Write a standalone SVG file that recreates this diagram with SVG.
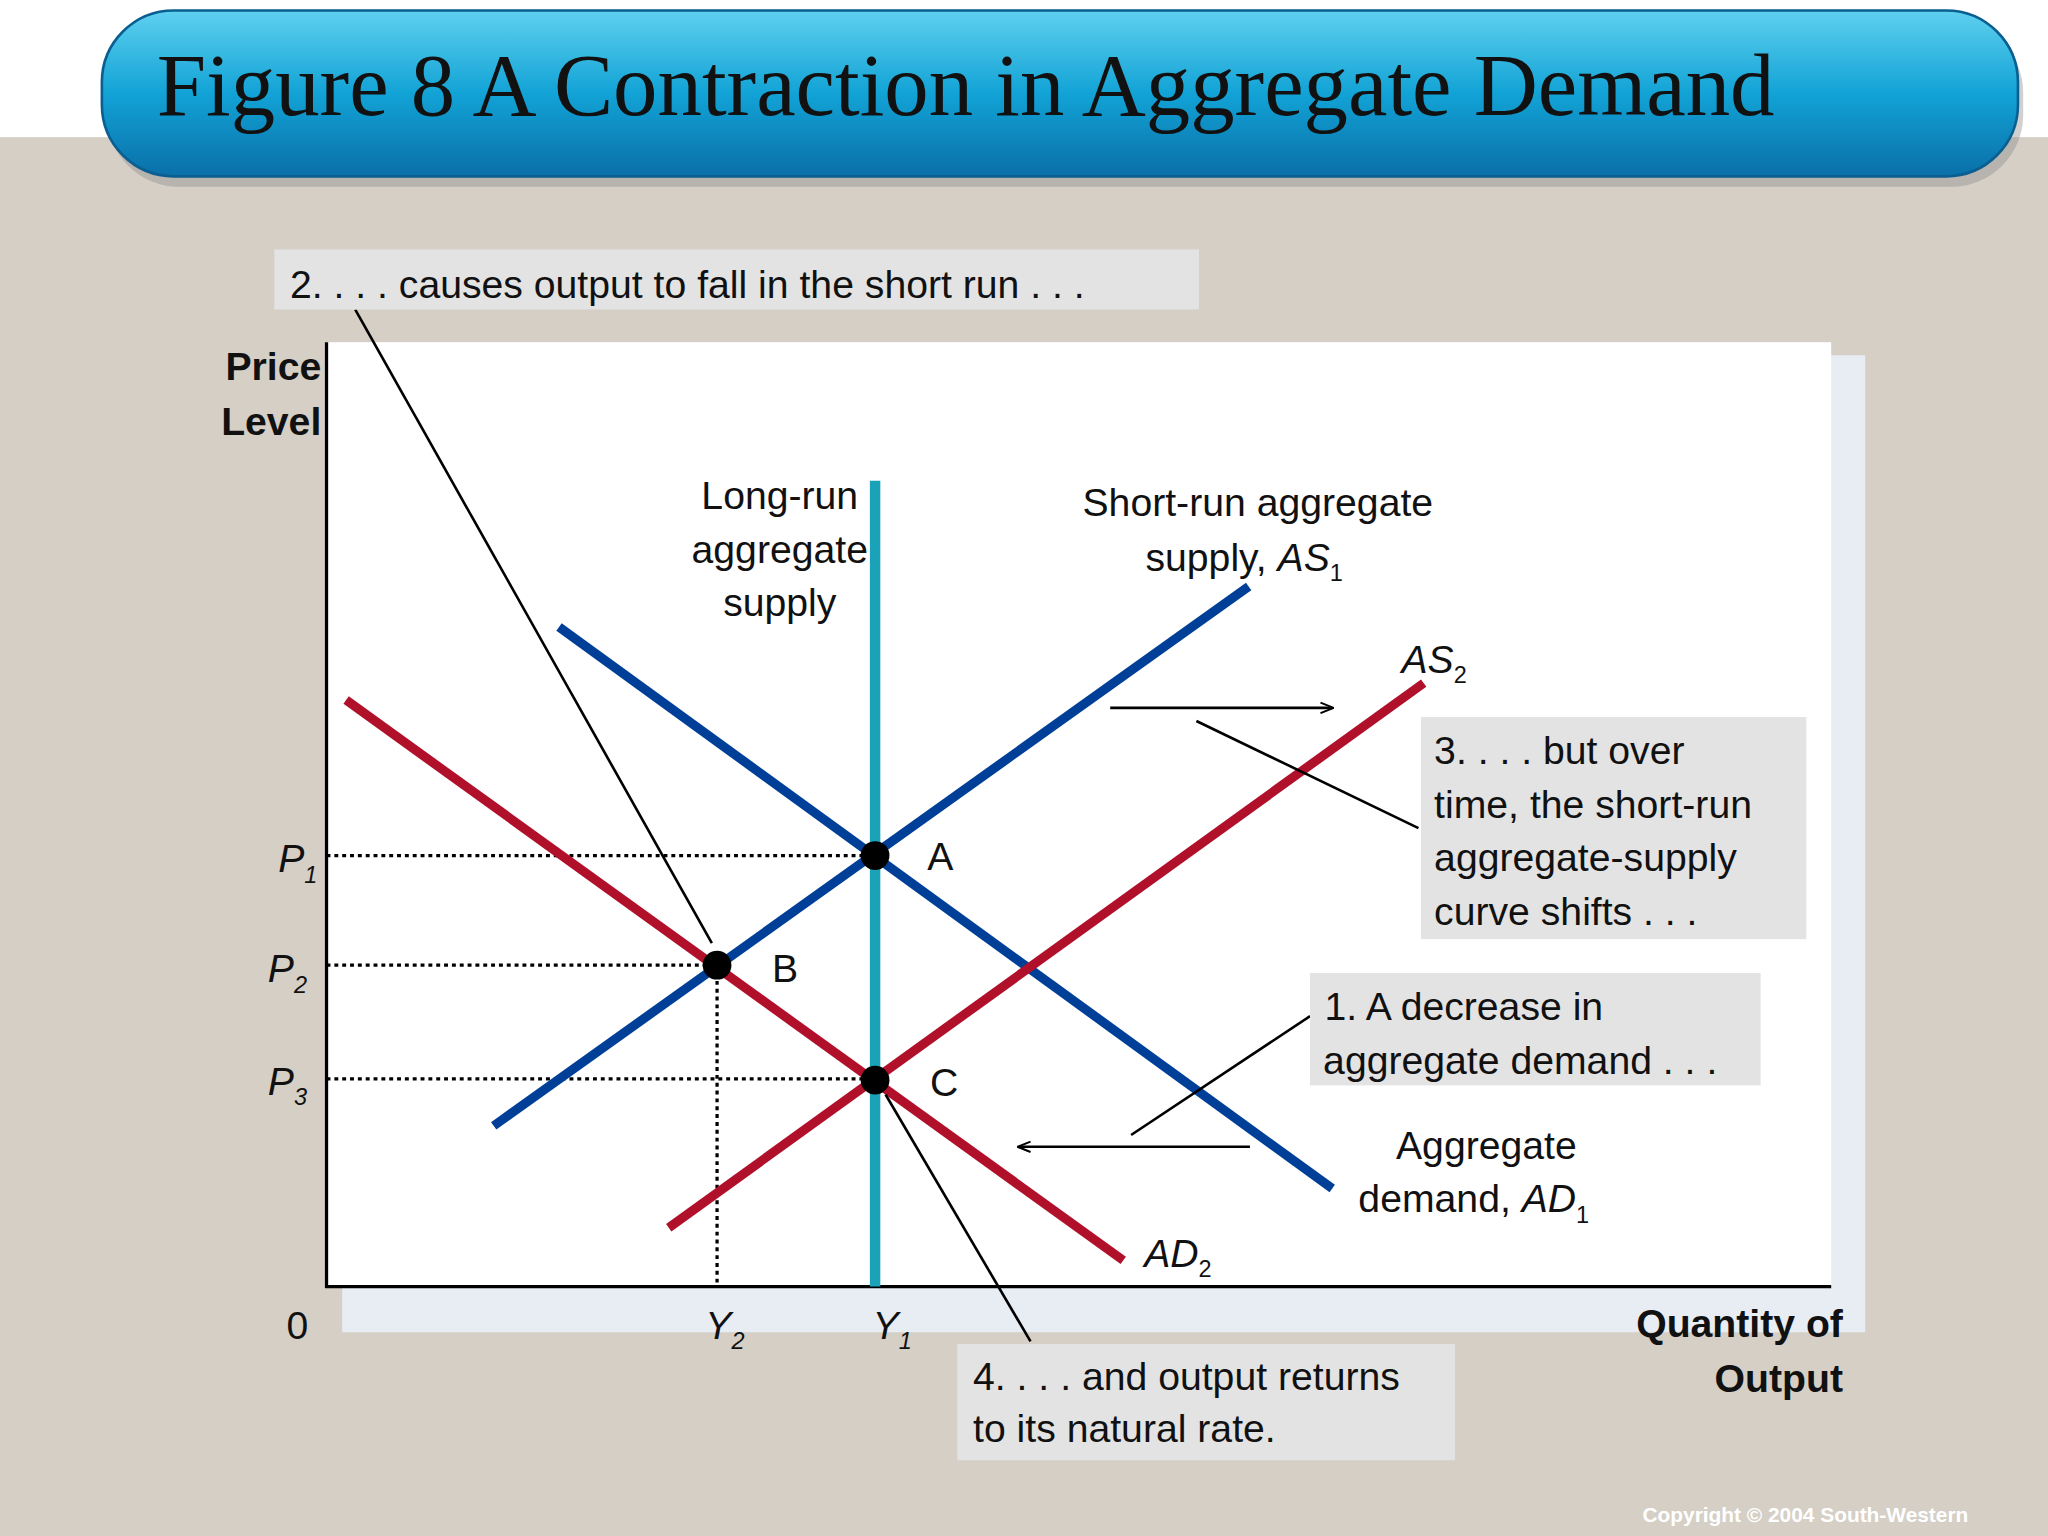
<svg xmlns="http://www.w3.org/2000/svg" width="2048" height="1536" viewBox="0 0 2048 1536">
<defs>
<linearGradient id="tg" x1="0" y1="0" x2="0" y2="1"><stop offset="0" stop-color="#5fd0ef"/><stop offset="0.5" stop-color="#12a3d6"/><stop offset="1" stop-color="#0a6fa8"/></linearGradient>
<marker id="ah" viewBox="0 0 10 10" refX="9" refY="5" markerWidth="10" markerHeight="10" orient="auto" markerUnits="userSpaceOnUse"><path d="M0,1 L10,5 L0,9" fill="none" stroke="#000" stroke-width="1.5"/></marker>
<style>
text{font-family:"Liberation Sans",Arial,sans-serif;font-size:30px;fill:#111}
.b{font-weight:bold}
.i{font-style:italic}
.box{fill:#e3e3e3}
.lead{stroke:#000;stroke-width:2;fill:none}
.dot{stroke:#000;stroke-width:2.5;stroke-dasharray:3 3;fill:none}
.blue{stroke:#003f98;stroke-width:7}
.red{stroke:#b0102a;stroke-width:7}
</style>
</defs>
<g transform="scale(1.30612)">
<rect x="0" y="0" width="1568" height="1176" fill="#fff"/>
<rect x="0" y="105" width="1568" height="1071" fill="#d5cfc6"/>
<g id="title">
<rect x="82" y="16" width="1467" height="127" rx="55" fill="#8a8a8a" opacity="0.4"/>
<rect x="78" y="8" width="1467" height="127" rx="55" fill="url(#tg)" stroke="#0a5f90" stroke-width="2"/>
<text x="120" y="88" style="font-family:'Liberation Serif','Times New Roman',serif;font-size:68px;fill:#111">Figure 8 A Contraction in Aggregate Demand</text>
</g>
<rect x="262" y="272" width="1166" height="748" fill="#e8ecf3"/>
<rect x="250" y="262" width="1152" height="723" fill="#fff"/>
<g id="axes">
<line x1="250" y1="262" x2="250" y2="986" stroke="#000" stroke-width="2.5"/>
<line x1="249" y1="985" x2="1402" y2="985" stroke="#000" stroke-width="2.5"/>
<text class="b" x="246" y="291" text-anchor="end">Price</text>
<text class="b" x="246" y="333" text-anchor="end">Level</text>
<text x="236" y="1025" text-anchor="end">0</text>
<text class="b" x="1411" y="1024" text-anchor="end">Quantity of</text>
<text class="b" x="1411" y="1066" text-anchor="end">Output</text>
</g>
<g id="connectors">
<line class="dot" x1="250" y1="655" x2="670" y2="655"/>
<line class="dot" x1="250" y1="739" x2="549" y2="739"/>
<line class="dot" x1="250" y1="826" x2="670" y2="826"/>
<line class="dot" x1="549" y1="739" x2="549" y2="985"/>
<line x1="670" y1="368" x2="670" y2="985" stroke="#1aa3b8" stroke-width="8"/>
<line class="blue" x1="378" y1="862" x2="956" y2="449"/>
<line class="blue" x1="428" y1="480" x2="1020" y2="910"/>
<line class="red" x1="512" y1="940" x2="1090" y2="523"/>
<line class="red" x1="265" y1="536" x2="860" y2="965"/>
<line class="lead" x1="272" y1="237" x2="545" y2="722"/>
<line class="lead" x1="916" y1="552" x2="1086" y2="634"/>
<line class="lead" x1="1003" y1="778" x2="866" y2="869"/>
<line class="lead" x1="678" y1="838" x2="789" y2="1027"/>
<line class="lead" x1="850" y1="542" x2="1020" y2="542" marker-end="url(#ah)"/>
<line class="lead" x1="957" y1="878" x2="780" y2="878" marker-end="url(#ah)"/>
</g>
<g id="pointA"><circle cx="670" cy="655" r="11"/><text x="710" y="666">A</text></g>
<g id="pointB"><circle cx="549" cy="739" r="11"/><text x="591" y="752">B</text></g>
<g id="pointC"><circle cx="670" cy="827" r="11"/><text x="712" y="839">C</text></g>
<g id="axislabels">
<text class="i" x="213" y="668">P<tspan font-size="18" dy="8">1</tspan></text>
<text class="i" x="205" y="752">P<tspan font-size="18" dy="8">2</tspan></text>
<text class="i" x="205" y="838">P<tspan font-size="18" dy="8">3</tspan></text>
<text class="i" x="540" y="1025">Y<tspan font-size="18" dy="8">2</tspan></text>
<text class="i" x="668" y="1025">Y<tspan font-size="18" dy="8">1</tspan></text>
</g>
<g id="lras"><text x="597" y="390" text-anchor="middle">Long-run</text><text x="597" y="431" text-anchor="middle">aggregate</text><text x="597" y="472" text-anchor="middle">supply</text></g>
<g id="as1"><text x="963" y="395" text-anchor="middle">Short-run aggregate</text><text x="877" y="437">supply, <tspan class="i">AS</tspan><tspan font-size="18" dy="8">1</tspan></text></g>
<g id="as2"><text class="i" x="1073" y="515">AS<tspan font-size="18" dy="8" font-style="normal">2</tspan></text></g>
<g id="ad1"><text x="1138" y="887" text-anchor="middle">Aggregate</text><text x="1040" y="928">demand, <tspan class="i">AD</tspan><tspan font-size="18" dy="8">1</tspan></text></g>
<g id="ad2"><text class="i" x="876" y="970">AD<tspan font-size="18" dy="8" font-style="normal">2</tspan></text></g>
<g id="note2"><rect class="box" x="210" y="191" width="708" height="46"/><text x="222" y="228">2. . . . causes output to fall in the short run . . .</text></g>
<g id="note3"><rect class="box" x="1088" y="549" width="295" height="170"/><text x="1098" y="585">3. . . . but over</text><text x="1098" y="626">time, the short-run</text><text x="1098" y="667">aggregate-supply</text><text x="1098" y="708">curve shifts . . .</text></g>
<g id="note1"><rect class="box" x="1003" y="745" width="345" height="86"/><text x="1014" y="781">1. A decrease in</text><text x="1013" y="822">aggregate demand . . .</text></g>
<g id="note4"><rect class="box" x="733" y="1029" width="381" height="89"/><text x="745" y="1064">4. . . . and output returns</text><text x="745" y="1104">to its natural rate.</text></g>
<text class="b" x="1507" y="1165" text-anchor="end" style="font-size:16px;fill:#fff">Copyright © 2004  South-Western</text>
</g>
</svg>
